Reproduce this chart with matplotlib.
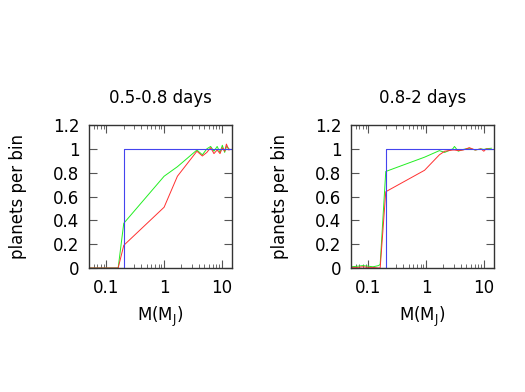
import matplotlib
matplotlib.use("Agg")
import matplotlib.pyplot as plt
from matplotlib.ticker import LogLocator, FixedLocator, NullFormatter

# mass grid and detection fractions, 0.5-0.8 days
x_left = [0.05, 0.08, 0.1, 0.13, 0.16, 0.2, 1.0, 1.7, 3.7, 4.6, 5.5,
          6.4, 7.3, 8.3, 9.3, 10.2, 11.2, 12.0, 13.3]
red_left = [0, 0, 0, 0, 0, 0.19, 0.51, 0.77, 0.98, 0.94, 0.97,
            1.01, 0.96, 0.99, 0.96, 1.01, 0.98, 1.04, 0.99]
green_left = [0, 0, 0, 0, 0, 0.375, 0.77, 0.85, 0.99, 0.95, 1.0,
              1.02, 0.98, 1.02, 0.97, 1.03, 0.97, 1.02, 1.0]

# 0.8-2 days
x_right = [0.05, 0.065, 0.08, 0.1, 0.12, 0.15, 0.16, 0.2, 0.94, 1.7, 2.1,
           2.9, 3.1, 3.6, 4.4, 5.6, 7.1, 8.9, 10.0, 11.0, 13.5]
red_right = [0.005, 0.005, 0.01, 0.005, 0.005, 0.0, 0.0, 0.64, 0.82, 0.95, 0.98,
             0.99, 0.99, 0.985, 0.99, 1.01, 0.99, 1.0, 0.98, 1.0, 0.995]
green_right = [0.01, 0.015, 0.02, 0.015, 0.01, 0.02, 0.03, 0.81, 0.93, 0.985, 0.97,
               1.0, 1.02, 0.98, 0.995, 1.005, 0.99, 1.0, 0.995, 1.0, 1.005]

# ideal step
x_step = [0.05, 0.2, 0.2, 15]
y_step = [0, 0, 1, 1]

titles = ["0.5-0.8 days", "0.8-2 days"]
yticks = [0, 0.2, 0.4, 0.6, 0.8, 1, 1.2]
yticklabels = ["0", "0.2", "0.4", "0.6", "0.8", "1", "1.2"]
xticks = [0.1, 1, 10]
xticklabels = ["0.1", "1", "10"]

fs = 12
fig = plt.figure(figsize=(5.25, 3.92), dpi=100)
W, H = 525, 392
panels = [
    (89, x_left, red_left, green_left),
    (351, x_right, red_right, green_right),
]
for i, (left_px, xs, red, green) in enumerate(panels):
    ax = fig.add_axes([left_px / W, 1 - 268 / H, 143 / W, 143 / H])
    ax.plot(xs, green, color="#22ee22", lw=0.7)
    ax.plot(xs, red, color="#ff3030", lw=0.7)
    ax.plot(x_step, y_step, color="#4444ee", lw=0.8)
    ax.set_xscale("log")
    ax.set_xlim(0.05, 15)
    ax.set_ylim(0, 1.2)
    ax.xaxis.set_major_locator(FixedLocator(xticks))
    ax.set_xticklabels(xticklabels)
    ax.xaxis.set_minor_locator(LogLocator(base=10, subs=range(2, 10)))
    ax.xaxis.set_minor_formatter(NullFormatter())
    ax.set_yticks(yticks)
    ax.set_yticklabels(yticklabels)
    ax.tick_params(which="both", direction="in", top=True, right=True,
                   labelsize=fs, color="#555555")
    ax.tick_params(axis="x", which="major", length=6, pad=8)
    ax.tick_params(axis="x", which="minor", length=3)
    ax.tick_params(axis="y", which="major", length=6, pad=7)
    for s in ax.spines.values():
        s.set_color("#333333")
        s.set_linewidth(1.0)
    ax.set_title(titles[i], fontsize=fs, pad=16)
    ax.set_xlabel("M(M$_\\mathregular{J}$)", fontsize=fs)
    ax.xaxis.set_label_coords(0.5, -0.343)
    ax.xaxis.label.set_va("center")
    ax.set_ylabel("planets per bin", fontsize=fs)
    ax.yaxis.set_label_coords(-0.497, 0.5)
    ax.yaxis.label.set_va("center")

fig.savefig("out.png", dpi=100)
